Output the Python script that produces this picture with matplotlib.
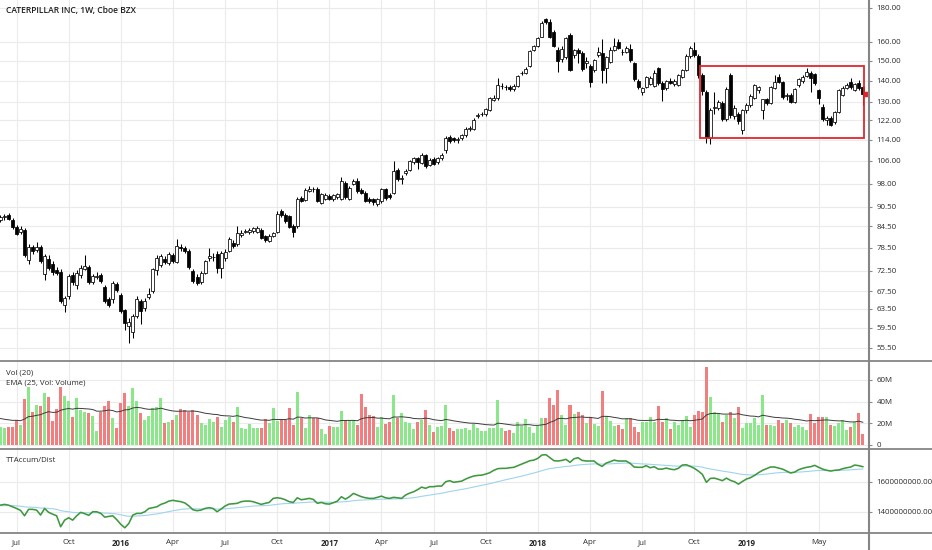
import numpy as np
import pandas as pd
import matplotlib
matplotlib.use("Agg")
import matplotlib.pyplot as plt
from matplotlib.patches import Rectangle
from matplotlib.lines import Line2D
from matplotlib.ticker import FuncFormatter, NullLocator, FixedLocator

# ---- weekly CAT candles, first bar = week of 2015-06-08 ----
opens = [
    86.4, 87.2, 87.9, 86.5, 84.2, 82.9, 83.4, 75.2, 78.6, 77.9,
    78.7, 71.7, 75.4, 74.2, 72.7, 72.2, 64.3, 66.3, 71.4, 68.9,
    71.3, 73.0, 73.4, 69.6, 71.0, 71.4, 68.5, 65.6, 65.6, 69.2,
    66.7, 63.2, 59.9, 58.7, 61.9, 65.2, 63.6, 66.2, 67.5, 72.6,
    73.8, 75.5, 74.5, 76.6, 74.8, 78.7, 78.5, 77.6, 72.4, 70.9,
    69.6, 71.9, 75.6, 75.9, 76.8, 73.2, 75.8, 77.6, 79.9, 79.4,
    81.9, 83.0, 83.0, 83.1, 83.0, 83.4, 81.7, 80.4, 81.8, 82.9,
    89.0, 88.0, 87.6, 84.6, 84.7, 93.3, 92.5, 95.6, 96.2, 96.2,
    91.7, 93.0, 94.0, 92.9, 93.4, 93.0, 98.3, 93.0, 98.0, 99.0,
    95.9, 94.8, 93.0, 92.8, 91.4, 92.2, 96.0, 94.2, 95.0, 102.8,
    99.6, 101.8, 102.8, 105.6, 107.0, 105.3, 108.2, 104.4, 106.8, 105.5,
    107.0, 109.9, 115.0, 114.8, 114.0, 114.6, 115.8, 118.5, 118.2, 124.0,
    124.5, 124.5, 126.5, 131.0, 131.6, 137.3, 136.8, 137.0, 135.8, 137.5,
    143.5, 143.8, 147.0, 155.4, 157.5, 163.0, 173.0, 171.2, 165.7, 155.6,
    151.0, 152.0, 164.0, 153.0, 155.5, 154.0, 149.0, 147.0, 145.0, 152.8,
    154.0, 146.3, 149.3, 155.6, 159.8, 154.6, 154.4, 156.0, 148.9, 139.8,
    134.5, 136.8, 138.5, 137.3, 146.0, 139.0, 136.6, 140.0, 138.3, 138.0,
    141.6, 145.0, 152.5, 155.5, 152.4, 142.6, 134.5, 114.6, 127.4, 127.4,
    129.6, 122.4, 142.6, 124.0, 124.8, 118.0, 126.3, 128.5, 132.0, 135.6,
    126.3, 131.1, 129.6, 136.5, 141.6, 139.3, 132.6, 133.0, 130.0, 137.8,
    139.8, 142.1, 143.6, 143.0, 135.4, 127.9, 122.0, 123.0, 121.2, 125.4,
    133.0, 136.5, 139.4, 135.6, 138.6, 137.0]

highs = [
    87.9, 88.2, 88.5, 86.9, 84.8, 84.6, 84.0, 79.5, 79.2, 80.0,
    79.3, 76.8, 76.5, 74.9, 73.5, 72.8, 66.4, 71.6, 72.2, 72.6,
    73.8, 76.5, 74.0, 71.6, 72.2, 72.0, 69.0, 66.2, 70.0, 69.7,
    67.0, 63.5, 61.5, 62.4, 66.3, 65.6, 66.0, 68.2, 73.2, 76.5,
    76.8, 76.2, 77.3, 77.0, 80.9, 79.5, 79.0, 78.2, 73.0, 71.6,
    72.4, 75.3, 78.4, 77.0, 77.5, 77.6, 78.0, 81.5, 80.5, 84.6,
    83.3, 83.8, 84.0, 84.3, 84.5, 84.0, 82.0, 82.3, 83.0, 89.0,
    89.6, 88.5, 88.0, 85.2, 93.5, 94.0, 96.5, 97.3, 96.8, 96.8,
    95.0, 94.8, 94.5, 94.5, 95.0, 100.2, 98.8, 97.0, 99.6, 100.0,
    96.5, 95.5, 93.5, 93.3, 93.3, 96.6, 96.5, 94.8, 106.0, 103.5,
    101.0, 103.0, 106.5, 107.5, 107.5, 108.8, 108.6, 107.0, 107.3, 107.6,
    109.0, 115.5, 115.8, 115.3, 115.0, 116.5, 119.0, 119.5, 122.8, 125.0,
    125.4, 127.5, 132.3, 133.0, 141.0, 138.6, 138.0, 137.8, 138.2, 142.6,
    144.5, 146.5, 155.8, 158.2, 162.6, 171.8, 173.8, 173.5, 166.5, 157.0,
    157.5, 163.0, 165.0, 156.0, 156.5, 155.0, 152.0, 148.0, 151.0, 157.0,
    161.5, 152.5, 157.0, 162.0, 161.6, 156.0, 157.5, 159.0, 149.5, 140.5,
    136.8, 142.2, 142.0, 145.3, 146.5, 140.0, 140.2, 141.0, 140.8, 143.2,
    145.6, 153.5, 157.5, 159.7, 153.5, 143.5, 135.5, 127.5, 134.5, 131.0,
    130.5, 137.0, 143.5, 128.5, 125.5, 127.0, 129.5, 133.5, 138.5, 137.5,
    131.5, 132.0, 137.5, 142.6, 143.0, 140.0, 134.0, 134.0, 136.5, 141.0,
    142.5, 146.0, 144.5, 143.5, 136.0, 129.0, 123.8, 124.0, 126.0, 136.0,
    137.5, 139.0, 141.0, 139.0, 140.4, 137.5]

lows = [
    85.9, 86.4, 86.3, 83.8, 81.9, 82.4, 76.0, 74.3, 76.9, 77.4,
    74.5, 70.2, 72.6, 71.5, 71.3, 64.8, 62.9, 65.8, 69.0, 68.0,
    70.7, 72.6, 69.2, 69.2, 70.3, 69.4, 64.7, 63.9, 64.8, 67.3,
    62.6, 59.0, 56.4, 57.4, 61.5, 60.3, 63.0, 65.8, 67.0, 71.5,
    73.3, 74.2, 74.0, 74.4, 74.4, 77.6, 77.0, 73.0, 69.5, 69.0,
    69.2, 71.6, 75.0, 75.0, 72.0, 70.6, 75.0, 77.3, 78.4, 79.0,
    81.5, 82.6, 82.4, 82.7, 82.5, 80.8, 80.0, 80.0, 81.3, 82.5,
    87.2, 85.6, 84.0, 81.4, 84.0, 91.8, 92.2, 95.2, 95.2, 91.8,
    91.2, 92.6, 92.6, 92.4, 93.0, 92.5, 93.0, 92.5, 97.5, 95.0,
    94.5, 91.8, 91.6, 91.1, 90.7, 91.7, 92.6, 93.0, 94.5, 99.0,
    97.8, 101.0, 102.3, 105.0, 103.0, 104.8, 103.5, 104.0, 104.5, 105.0,
    106.5, 109.0, 112.8, 113.2, 112.8, 114.0, 115.3, 117.6, 117.8, 123.0,
    123.6, 124.0, 126.0, 130.5, 131.0, 136.0, 135.5, 135.2, 135.2, 137.0,
    142.5, 143.3, 146.5, 154.8, 157.0, 162.5, 170.5, 162.0, 157.0, 144.0,
    149.5, 151.0, 144.5, 151.5, 149.0, 144.8, 146.0, 137.0, 144.0, 152.0,
    139.0, 139.0, 148.5, 155.0, 156.0, 153.0, 153.8, 149.5, 140.0, 136.0,
    133.0, 136.3, 138.0, 137.0, 138.0, 130.4, 135.5, 138.3, 137.6, 137.5,
    141.0, 144.5, 151.5, 152.0, 141.0, 133.0, 112.8, 112.5, 124.5, 126.5,
    121.8, 121.8, 123.0, 122.5, 120.5, 116.5, 125.0, 127.8, 131.5, 134.0,
    122.6, 128.5, 129.0, 136.0, 138.8, 131.5, 131.0, 129.5, 129.5, 137.0,
    139.0, 141.5, 134.4, 138.0, 129.0, 121.5, 120.0, 119.5, 120.5, 125.0,
    132.5, 135.8, 136.0, 135.0, 135.5, 128.7]

closes = [
    87.3, 87.6, 86.7, 84.2, 82.4, 83.8, 76.5, 78.7, 77.6, 78.7,
    74.9, 76.2, 73.1, 72.1, 71.9, 65.2, 66.0, 71.1, 69.6, 72.0,
    73.1, 73.6, 69.6, 71.1, 71.2, 69.9, 65.2, 64.4, 69.5, 67.8,
    63.0, 60.4, 60.6, 61.9, 65.8, 63.0, 65.2, 66.9, 72.9, 75.6,
    76.3, 74.8, 76.8, 74.9, 78.9, 78.5, 77.6, 73.4, 69.9, 69.5,
    71.9, 74.9, 76.2, 76.1, 73.2, 77.1, 77.3, 80.9, 78.9, 82.6,
    82.6, 83.2, 83.4, 83.9, 84.0, 81.2, 80.6, 81.8, 82.6, 88.2,
    87.8, 86.0, 84.4, 83.0, 93.0, 92.3, 95.9, 96.3, 96.0, 92.3,
    94.5, 94.2, 93.0, 94.1, 94.6, 99.0, 93.5, 96.6, 99.0, 95.6,
    95.0, 92.3, 92.3, 92.0, 92.8, 96.2, 93.2, 93.5, 102.5, 99.6,
    100.0, 102.5, 105.9, 107.0, 105.6, 108.3, 104.1, 106.4, 105.0, 107.2,
    108.3, 114.6, 113.4, 113.9, 114.2, 115.8, 118.5, 118.6, 122.0, 124.1,
    124.7, 127.0, 131.7, 132.0, 137.8, 137.5, 136.7, 135.8, 137.6, 142.0,
    143.7, 145.8, 155.2, 157.7, 162.0, 171.0, 171.2, 162.5, 157.5, 149.7,
    156.2, 162.0, 145.0, 155.5, 154.0, 145.5, 150.0, 139.5, 150.3, 154.5,
    145.0, 151.8, 155.6, 157.6, 156.6, 154.3, 156.8, 150.3, 140.8, 136.8,
    136.3, 141.6, 141.0, 143.6, 139.0, 136.0, 139.6, 139.0, 139.8, 142.8,
    145.1, 152.5, 156.5, 153.0, 142.6, 135.0, 115.0, 126.3, 127.6, 130.0,
    122.4, 136.0, 124.1, 127.4, 121.6, 126.3, 128.5, 132.5, 137.8, 136.7,
    131.1, 129.3, 136.7, 139.4, 139.3, 132.2, 133.0, 130.0, 135.8, 140.6,
    141.6, 144.1, 141.1, 139.0, 131.6, 122.4, 122.9, 120.0, 125.6, 135.4,
    136.6, 138.0, 136.8, 138.4, 136.6, 133.6]

# weekly volume, millions of shares
volume_m = [
    16.9, 15.4, 16.9, 16.9, 23.0, 18.4, 42.1, 53.1, 30.7, 36.8,
    35.9, 48.2, 44.5, 22.1, 32.8, 53.1, 45.1, 40.8, 26.1, 43.0,
    32.2, 30.7, 29.8, 27.0, 13.2, 30.7, 35.9, 40.8, 25.2, 15.4,
    38.4, 47.6, 35.9, 52.2, 40.8, 29.8, 23.0, 26.7, 34.4, 34.7,
    43.6, 20.6, 21.5, 23.0, 27.6, 32.8, 32.2, 30.1, 32.2, 27.6,
    20.6, 18.4, 23.6, 21.5, 25.5, 16.9, 23.0, 25.5, 21.5, 34.7,
    16.0, 14.7, 19.3, 15.4, 16.0, 16.0, 23.6, 20.0, 33.8, 22.4,
    23.0, 23.0, 33.8, 18.4, 48.5, 24.6, 15.4, 27.6, 24.6, 24.6,
    14.7, 10.1, 17.5, 16.9, 16.9, 31.6, 23.0, 23.0, 23.0, 18.4,
    46.7, 35.3, 27.6, 26.7, 16.9, 25.5, 19.3, 21.5, 46.1, 24.6,
    29.2, 21.5, 20.6, 14.4, 21.5, 23.0, 32.2, 18.4, 12.3, 16.9,
    17.8, 36.8, 16.0, 13.2, 14.4, 14.7, 15.4, 13.8, 19.3, 16.0,
    12.9, 13.2, 16.0, 15.4, 41.4, 15.4, 13.2, 13.8, 10.7, 21.5,
    17.5, 23.9, 16.9, 11.4, 17.8, 24.6, 24.6, 43.0, 36.8, 50.7,
    27.6, 18.4, 36.8, 28.6, 30.1, 27.6, 20.0, 26.1, 19.3, 17.8,
    49.7, 26.7, 22.4, 17.5, 18.4, 14.4, 24.6, 24.6, 16.9, 12.3,
    21.5, 21.5, 25.5, 21.5, 35.9, 20.9, 24.6, 14.7, 20.9, 18.4,
    23.0, 26.7, 16.9, 27.6, 31.3, 30.7, 72.1, 44.5, 30.7, 29.2,
    21.5, 27.6, 30.7, 24.6, 35.3, 15.4, 20.0, 20.0, 24.6, 18.4,
    46.1, 18.4, 18.4, 17.8, 23.0, 20.0, 23.0, 20.0, 16.3, 18.4,
    16.3, 13.8, 28.2, 20.0, 26.1, 26.1, 25.5, 18.4, 17.8, 20.0,
    23.0, 13.8, 16.9, 21.5, 29.2, 10.1]

# TTAccum/Dist indicator, millions
accum_m = [
    1444, 1449, 1444, 1433, 1422, 1409, 1373, 1416, 1416, 1411,
    1378, 1422, 1396, 1384, 1373, 1300, 1344, 1360, 1344, 1373,
    1396, 1387, 1376, 1400, 1400, 1389, 1364, 1369, 1373, 1347,
    1316, 1293, 1322, 1378, 1389, 1389, 1400, 1422, 1427, 1433,
    1449, 1458, 1471, 1476, 1471, 1467, 1458, 1438, 1413, 1407,
    1411, 1422, 1427, 1422, 1400, 1418, 1438, 1451, 1453, 1456,
    1467, 1471, 1471, 1467, 1458, 1449, 1456, 1462, 1489, 1493,
    1489, 1480, 1467, 1462, 1493, 1480, 1484, 1489, 1482, 1456,
    1462, 1453, 1451, 1460, 1471, 1500, 1484, 1500, 1522, 1511,
    1500, 1493, 1489, 1489, 1496, 1504, 1493, 1489, 1496, 1493,
    1489, 1511, 1524, 1533, 1547, 1564, 1556, 1567, 1567, 1571,
    1571, 1600, 1607, 1596, 1600, 1604, 1618, 1629, 1638, 1642,
    1644, 1651, 1660, 1676, 1687, 1689, 1689, 1693, 1696, 1707,
    1718, 1729, 1740, 1744, 1756, 1778, 1780, 1760, 1740, 1738,
    1742, 1749, 1729, 1753, 1760, 1742, 1738, 1738, 1738, 1716,
    1702, 1724, 1733, 1744, 1738, 1738, 1738, 1722, 1698, 1696,
    1696, 1707, 1693, 1700, 1684, 1684, 1691, 1684, 1680, 1689,
    1711, 1713, 1702, 1689, 1671, 1649, 1596, 1622, 1624, 1616,
    1607, 1624, 1609, 1600, 1584, 1602, 1618, 1627, 1642, 1660,
    1676, 1687, 1698, 1698, 1691, 1684, 1671, 1658, 1664, 1680,
    1689, 1696, 1700, 1709, 1696, 1684, 1676, 1671, 1676, 1678,
    1687, 1693, 1698, 1711, 1707, 1700]

price_ticks = [55.5, 59.5, 63.5, 67.5, 72.5, 78.5, 84.5, 90.5, 98.0, 106.0,
               114.0, 122.0, 130.0, 140.0, 150.0, 160.0, 180.0]
vol_ticks = [0, 20, 40, 60]
accum_ticks = [1400, 1600]
tick_dates = ['2015-07-06', '2015-10-05', '2016-01-04', '2016-04-04', '2016-07-04',
              '2016-10-03', '2017-01-02', '2017-04-03', '2017-07-03', '2017-10-02',
              '2018-01-01', '2018-04-02', '2018-07-02', '2018-10-01', '2018-12-31',
              '2019-05-06']
tick_names = ['Jul', 'Oct', '2016', 'Apr', 'Jul', 'Oct', '2017', 'Apr', 'Jul', 'Oct',
              '2018', 'Apr', 'Jul', 'Oct', '2019', 'May']

# hand drawn box on the chart (bar index, price)
box_bars = (174.5, 215.4)
box_prices = (114.9, 147.4)
vol_ema_start = 25.0      # value of the EMA line at the left edge
accum_ema_start = 1440.0

n = len(closes)
for name, arr in [('opens', opens), ('highs', highs), ('lows', lows),
                  ('volume', volume_m), ('accum', accum_m)]:
    assert len(arr) == n, (name, len(arr), n)

o = np.array(opens)
c = np.array(closes)
hi = np.maximum(np.array(highs), np.maximum(o, c))
lo = np.minimum(np.array(lows), np.minimum(o, c))
dates = pd.date_range('2015-06-08', periods=n, freq='W-MON')
x = np.arange(n)
up = c >= o


def ema(values, span, start):
    a = 2.0 / (span + 1)
    out = []
    e = start
    for v in values:
        e = e + a * (v - e)
        out.append(e)
    return np.array(out)


vol_ema = ema(volume_m, 25, vol_ema_start)
accum_sig = ema(accum_m, 26, accum_ema_start)

plt.rcParams['font.family'] = ['Open Sans', 'DejaVu Sans']
W, H = 932, 550
fig = plt.figure(figsize=(W / 100, H / 100), dpi=100)
fig.patch.set_facecolor('white')


def px_axes(left, top, right, bottom):
    return fig.add_axes([left / W, 1 - bottom / H, (right - left) / W, (bottom - top) / H])


ax_p = px_axes(0, 0, 868, 360)
ax_v = px_axes(0, 361, 868, 448)
ax_a = px_axes(0, 449, 868, 532)

xmin, xmax = -0.12, 216.3
tick_idx = dates.get_indexer(pd.to_datetime(tick_dates))
grid_c = '#ebebeb'
lab_c = '#2a2a2a'

for ax in (ax_p, ax_v, ax_a):
    ax.set_xlim(xmin, xmax)
    for s in ax.spines.values():
        s.set_visible(False)
    ax.set_xticks(tick_idx)
    ax.grid(True, color=grid_c, lw=0.8, zorder=0)
    ax.set_axisbelow(True)
    ax.tick_params(axis='x', length=0, labelbottom=False)
    ax.tick_params(axis='y', which='major', left=False, labelleft=False, right=True,
                   labelright=True, length=3, width=0.8, color='#8a8a8a',
                   labelsize=5.7, labelcolor=lab_c, pad=3)

# price candles
ax_p.set_yscale('log')
ax_p.set_ylim(53.2, 185.0)
ax_p.yaxis.set_major_locator(FixedLocator(price_ticks))
ax_p.yaxis.set_minor_locator(NullLocator())
ax_p.yaxis.set_major_formatter(FuncFormatter(lambda v, _: f'{v:.2f}'))
ax_p.vlines(x, lo, hi, color='black', lw=0.75, zorder=2)
body_lo = np.minimum(o, c)
body_h = np.maximum(np.abs(c - o), 0.002 * c)
ax_p.bar(x, body_h, bottom=body_lo, width=0.75,
         color=np.where(up, 'white', 'black'), edgecolor='black', linewidth=0.55, zorder=3)
ax_p.add_patch(Rectangle((box_bars[0], box_prices[0]), box_bars[1] - box_bars[0],
                         box_prices[1] - box_prices[0], fill=False,
                         edgecolor='#e0262b', lw=1.3, zorder=5))
ax_p.plot([x[-1] + 0.7], [c[-1]], marker='s', ms=2.3, color='#e0262b', zorder=6)

# volume
ax_v.set_ylim(-2.8, 77.4)
ax_v.yaxis.set_major_locator(FixedLocator(vol_ticks))
ax_v.yaxis.set_major_formatter(FuncFormatter(lambda v, _: '0' if v == 0 else f'{v:.0f}M'))
ax_v.bar(x, volume_m, width=0.75, color=np.where(up, '#8ae88a', '#f27f7f'),
         linewidth=0, zorder=2)
ax_v.plot(x, vol_ema, color='#3c3c3c', lw=0.7, zorder=3)

# accumulation / distribution
ax_a.set_ylim(1265, 1818)
ax_a.yaxis.set_major_locator(FixedLocator(accum_ticks))
ax_a.yaxis.set_major_formatter(FuncFormatter(lambda v, _: f'{v * 1e6:.2f}'))
ax_a.plot(x, accum_sig, color='#9fd3ee', lw=0.8, zorder=2)
ax_a.plot(x, accum_m, color='#3e983e', lw=1.15, zorder=3)

ax_a.tick_params(axis='x', labelbottom=True, labelsize=5.7, labelcolor=lab_c, pad=5)
ax_a.set_xticklabels(tick_names)
for t in ax_a.get_xticklabels():
    if t.get_text().isdigit():
        t.set_fontweight('bold')

# frame lines like the terminal layout
line_c = '#858585'
for yy in (360.5, 448.5, 532.5):
    fig.add_artist(Line2D([0, 1], [1 - yy / H] * 2, color=line_c, lw=1.3,
                          transform=fig.transFigure))
fig.add_artist(Line2D([868.5 / W] * 2, [0, 1], color=line_c, lw=1.5,
                      transform=fig.transFigure))

# captions
fig.text(6 / W, 1 - 10 / H, 'CATERPILLAR INC, 1W, Cboe BZX', fontsize=6.1,
         weight='semibold', va='center', color='#1e1e1e')
fig.text(6 / W, 1 - 372.5 / H, 'Vol (20)', fontsize=5.7, va='center', color=lab_c)
fig.text(6 / W, 1 - 383.5 / H, 'EMA (25, Vol: Volume)', fontsize=5.7, va='center', color=lab_c)
fig.text(6 / W, 1 - 460 / H, 'TTAccum/Dist', fontsize=5.7, va='center', color=lab_c)

fig.savefig('out.png', dpi=100, facecolor='white')
